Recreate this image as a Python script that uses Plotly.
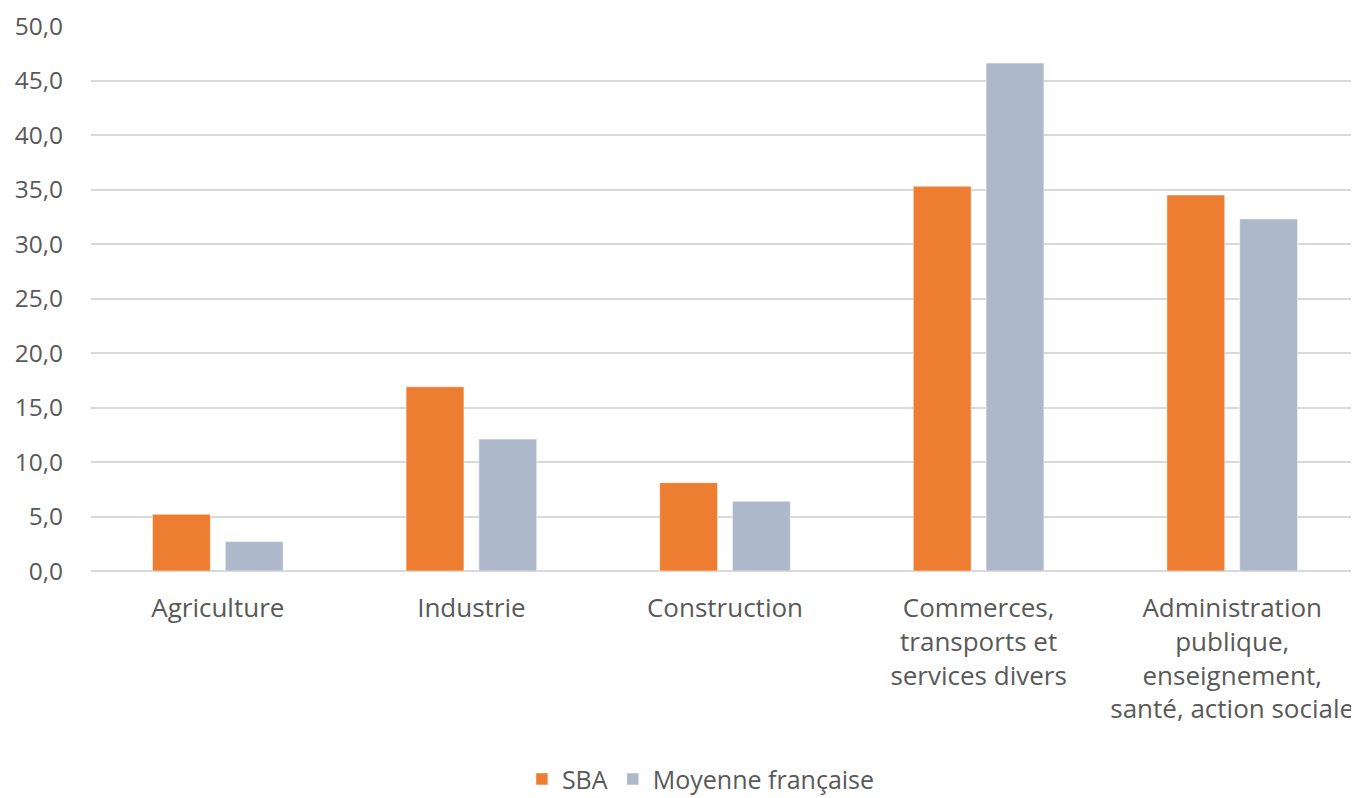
import plotly.graph_objects as go

categories = [
    "Agriculture",
    "Industrie",
    "Construction",
    "Commerces,<br>transports et<br>services divers",
    "Administration<br>publique,<br>enseignement,<br>santé, action sociale",
]
sba = [5.2, 16.9, 8.1, 35.3, 34.5]
moyenne = [2.7, 12.1, 6.4, 46.6, 32.3]
series_names = ["SBA", "Moyenne française"]
colors = ["#ED7D31", "#ADB9CA"]
y_ticks = [0, 5, 10, 15, 20, 25, 30, 35, 40, 45, 50]
y_tick_text = ["0,0", "5,0", "10,0", "15,0", "20,0", "25,0", "30,0", "35,0", "40,0", "45,0", "50,0"]

FONT = "Open Sans"
TXT = "#595959"

fig = go.Figure()
for name, vals, col in zip(series_names, [sba, moyenne], colors):
    fig.add_trace(go.Bar(
        x=categories, y=vals, name=name,
        marker=dict(color=col, line=dict(color="rgba(255,255,255,0.5)", width=1)),
    ))

# page body keeps an 8px default margin, so the figure is 8px smaller
fig.update_layout(
    width=1351, height=790,
    paper_bgcolor="white", plot_bgcolor="white",
    margin=dict(l=83, r=0, t=17.5, b=226.5, autoexpand=False),
    barmode="group", bargap=0.426, bargroupgap=0.205,
    font=dict(family=FONT, size=26, color=TXT),
    showlegend=True,
    legend=dict(
        orientation="h",
        x=0.481, xanchor="center", y=-0.382, yanchor="middle",
        font=dict(family=FONT, size=25, color=TXT),
        itemwidth=30, tracegroupgap=0,
    ),
    xaxis=dict(
        showgrid=False, showline=False, ticks="", automargin=False,
        ticklabelstandoff=19,
        tickfont=dict(family=FONT, size=26, color=TXT),
    ),
    yaxis=dict(
        range=[0, 50], tickvals=y_ticks, ticktext=y_tick_text, automargin=False,
        showgrid=True, gridcolor="#D9D9D9", gridwidth=1.5,
        zeroline=True, zerolinecolor="#D9D9D9", zerolinewidth=1.5,
        showline=False, ticks="", ticklabelstandoff=27,
        tickfont=dict(family=FONT, size=24.5, color=TXT),
    ),
)

fig.write_html("out.html")
